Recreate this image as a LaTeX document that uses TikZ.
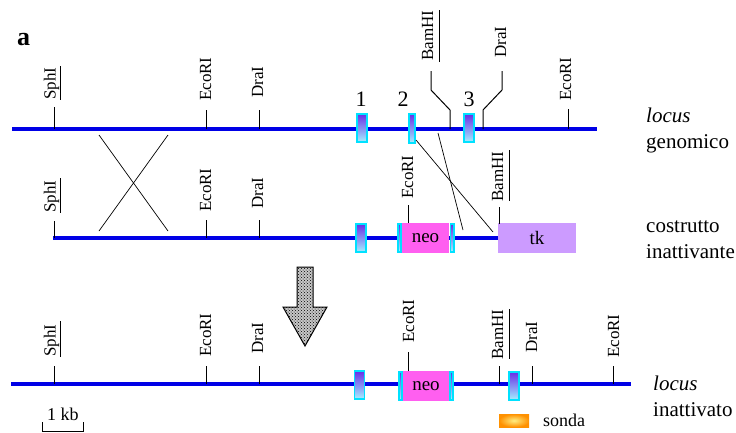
\documentclass[tikz,border=0pt]{standalone}
\usepackage{fontspec}
\setmainfont{Liberation Serif}
\usetikzlibrary{patterns}

\definecolor{dnablue}{RGB}{0,0,230}
\definecolor{exonrim}{RGB}{0,225,255}
\definecolor{exontop}{RGB}{105,45,230}
\definecolor{exonbot}{RGB}{165,240,255}
\definecolor{neofill}{RGB}{255,95,240}
\definecolor{tkfill}{RGB}{204,155,255}
\definecolor{probeout}{RGB}{255,145,0}
\definecolor{probein}{RGB}{255,238,130}

\tikzset{
  dna/.style={draw=dnablue, line width=3.2pt},
  site/.style={draw=black, line width=1pt},
  cross/.style={draw=black, line width=0.7pt},
  enz/.style={rotate=90, anchor=base west, inner sep=0pt, font=\fontsize{17}{17}\selectfont},
  exon/.style={draw=exonrim, line width=1.5pt, top color=exontop, bottom color=exonbot,
               inner sep=0pt, minimum width=10pt, minimum height=28pt},
  cassette/.style={fill=#1, draw=none, inner sep=0pt, minimum height=30pt,
                   font=\fontsize{19}{19}\selectfont},
  side/.style={anchor=base west, inner sep=0pt, font=\fontsize{21}{21}\selectfont},
  num/.style={anchor=base, inner sep=0pt, font=\fontsize{22}{22}\selectfont},
  small/.style={anchor=base west, inner sep=0pt, font=\fontsize{18}{18}\selectfont},
}

% restriction site: name, x, tick foot y, tick head y, label baseline x, label start y, enzyme
\newcommand\Site[7]{%
  \coordinate (#1) at (#2,#3);
  \coordinate (#1t) at (#2,#4);
  \draw[site] (#1) -- (#1t);
  \node[enz] (#1L) at (#5,#6) {#7};}

\begin{document}
\begin{tikzpicture}[x=1pt,y=-1pt]
\useasboundingbox (0,0) rectangle (736,432);

\node[anchor=base west, inner sep=0pt, font=\fontsize{26}{26}\selectfont\bfseries] (panel) at (17,45) {a};

% ---------------- genomic locus ----------------
\coordinate (g0) at (12,129);
\coordinate (g1) at (597,129);
\draw[dna] (g0) -- (g1);

\Site{gSph}{54}{129}{107}{55.5}{100}{SphI}
\draw[site] (60,66) -- (60,100);
\Site{gEco}{206}{129}{110}{211}{101}{EcoRI}
\Site{gDra}{259}{129}{110}{263}{98}{DraI}
\Site{gEcoR}{568}{129}{109}{571}{101}{EcoRI}

\coordinate (gBam) at (450,129);
\coordinate (gBamA) at (450,110);
\coordinate (gBamB) at (431,90);
\coordinate (gBamC) at (431,71);
\draw[site] (gBam) -- (gBamA) -- (gBamB) -- (gBamC);
\node[enz] (gBamL) at (433,61) {BamHI};
\draw[site] (439,10) -- (439,62);

\coordinate (gDraR) at (483,129);
\coordinate (gDraRA) at (483,110);
\coordinate (gDraRB) at (502,90);
\coordinate (gDraRC) at (502,71);
\draw[site] (gDraR) -- (gDraRA) -- (gDraRB) -- (gDraRC);
\node[enz] (gDraRL) at (506,58) {DraI};

\node[exon] (gx1) at (362,128) {};
\node[exon, minimum width=6pt, minimum height=29pt] (gx2) at (412,128.5) {};
\node[exon] (gx3) at (469,128) {};
\node[num] (n1) at (361,106) {1};
\node[num] (n2) at (403,106) {2};
\node[num] (n3) at (469,106) {3};

\node[side] (gt1) at (646,122) {\itshape locus};
\node[side] (gt2) at (646,148) {genomico};

% ---------------- targeting construct ----------------
\coordinate (c0) at (53,238);
\coordinate (c1) at (498,238);
\draw[dna] (c0) -- (c1);

\Site{cSph}{54}{238}{221}{55.5}{213}{SphI}
\draw[site] (60,178) -- (60,213);
\Site{cEco}{206}{238}{220}{211}{212}{EcoRI}
\Site{cDra}{259}{238}{220}{263}{209}{DraI}

\node[exon] (cx1) at (361,238) {};
\node[cassette=neofill, minimum width=47pt] (neo2) at (425.5,238) {neo};
\node[exon, minimum width=3pt] (neo2l) at (399.5,238) {};
\node[exon, minimum width=3.5pt] (neo2r) at (452,238) {};
\Site{cEcoN}{408}{223}{205}{413}{199}{EcoRI}

\node[cassette=tkfill, minimum width=78pt] (tk) at (537,238) {tk};
\Site{cBam}{499}{224}{207}{503}{202}{BamHI}
\draw[site] (509,150) -- (509,201);

\node[side] (ct1) at (646,232) {costrutto};
\node[side] (ct2) at (646,258) {inattivante};

% homologous recombination crossovers
\coordinate (xa1) at (99,135);  \coordinate (xa2) at (168,231);
\coordinate (xb1) at (168,135); \coordinate (xb2) at (99,231);
\draw[cross] (xa1) -- (xa2);
\draw[cross] (xb1) -- (xb2);
\coordinate (xc1) at (416,140); \coordinate (xc2) at (493,232);
\coordinate (xd1) at (438,133); \coordinate (xd2) at (463,230);
\draw[cross] (xc1) -- (xc2);
\draw[cross] (xd1) -- (xd2);

% recombination arrow, stippled
\draw[line width=1pt, preaction={fill=black!22}, pattern=crosshatch dots, pattern color=black]
  (297,267) -- (313,267) -- (313,307) -- (327,307) -- (305,346) -- (283,307) -- (297,307) -- cycle;

% ---------------- inactivated locus ----------------
\coordinate (i0) at (11,384);
\coordinate (i1) at (631,384);
\draw[dna] (i0) -- (i1);

\Site{iSph}{54}{384}{366}{55.5}{357}{SphI}
\draw[site] (60,321) -- (60,357);
\Site{iEco}{206}{384}{366}{211}{357}{EcoRI}
\Site{iDra}{259}{384}{366}{263}{354}{DraI}
\Site{iBam}{499}{384}{366}{503}{360}{BamHI}
\draw[site] (509,309) -- (509,359);
\Site{iDraR}{532}{384}{366}{537}{353}{DraI}
\Site{iEcoR}{613}{384}{366}{619}{358}{EcoRI}

\node[exon] (ix1) at (359.5,385) {};
\node[cassette=neofill, minimum width=46pt] (neo3) at (426,386) {neo};
\node[exon, minimum width=3pt] (neo3l) at (400.5,386) {};
\node[exon, minimum width=3pt] (neo3r) at (451.5,386) {};
\Site{iEcoN}{408}{371}{352}{414}{343}{EcoRI}
\node[exon] (ix3) at (514,386) {};

\node[side] (it1) at (653,390) {\itshape locus};
\node[side] (it2) at (653,416) {inattivato};

% scale bar
\coordinate (sb0) at (42,422); \coordinate (sb1) at (42,431);
\coordinate (sb2) at (83,431); \coordinate (sb3) at (83,422);
\draw[site] (sb0) -- (sb1) -- (sb2) -- (sb3);
\node[small] (kb) at (47,420) {1 kb};

% probe legend
\shade[inner color=probein, outer color=probeout] (499,414) rectangle (529,427);
\node[small] (probe) at (543,426) {sonda};
\end{tikzpicture}
\end{document}
